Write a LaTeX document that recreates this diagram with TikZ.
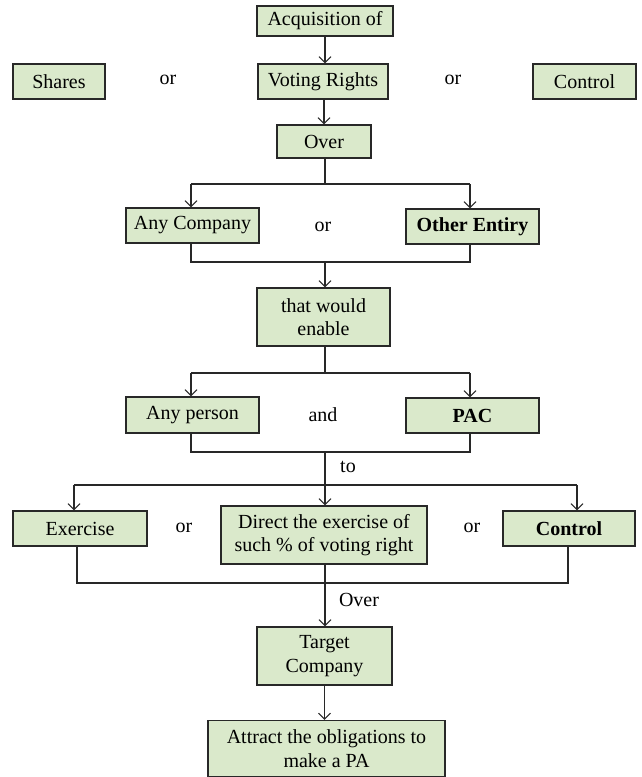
\documentclass[tikz,border=0pt]{standalone}
\usepackage{fontspec}
\setmainfont{Liberation Serif}
\usetikzlibrary{arrows.meta}
\definecolor{boxfill}{RGB}{218,233,203}
\definecolor{edge}{RGB}{40,40,40}
\tikzset{
  box/.style={draw=edge, line width=1.1pt, fill=boxfill, inner sep=0pt, align=center,
    font=\rmfamily\fontsize{20}{23.5}\selectfont, text=black},
  lbl/.style={inner sep=0pt, font=\rmfamily\fontsize{20}{23.5}\selectfont, text=black},
  conn/.style={draw=edge, line width=1.1pt},
  arr/.style={conn, -{Straight Barb[length=6pt,width=12pt,line width=1.1pt]}}
}
\begin{document}
\begin{tikzpicture}[x=1pt,y=-1pt]
\useasboundingbox (0,0) rectangle (641,777);
% row 1
\node[box, minimum width=136pt, minimum height=30pt] (acq) at (325,21) {Acquisition of};
\node[box, minimum width=92pt, minimum height=35pt] (shares) at (59,81.5) {Shares};
\node[lbl] (or1) at (168,80) {or};
\node[box, minimum width=130pt, minimum height=35pt] (voting) at (323,81.5) {Voting Rights};
\node[lbl] (or2) at (453,80) {or};
\node[box, minimum width=103pt, minimum height=35pt] (ctrlA) at (584.5,81.5) {Control};
\node[box, minimum width=94pt, minimum height=33pt] (over) at (324,141.5) {Over};
% row companies
\node[box, minimum width=133pt, minimum height=35pt] (anyco) at (192.5,225.5) {Any Company};
\node[lbl] (or3) at (323,227) {or};
\node[box, minimum width=133pt, minimum height=35pt] (other) at (472.5,226.5) {\bfseries Other Entiry};
\node[box, minimum width=133pt, minimum height=58pt] (enable) at (323.5,317) {that would\\enable};
% row persons
\node[box, minimum width=133pt, minimum height=36pt] (anyp) at (192.5,415) {Any person};
\node[lbl] (and) at (323,415) {and};
\node[box, minimum width=133pt, minimum height=35pt] (pac) at (472.5,415.5) {\bfseries PAC};
\node[lbl] (to) at (348,467) {to};
% row exercise
\node[box, minimum width=134pt, minimum height=35pt] (exer) at (80,528.5) {Exercise};
\node[lbl] (or4) at (184,528) {or};
\node[box, minimum width=206pt, minimum height=58pt] (direct) at (324,535) {Direct the exercise of\\such \% of voting right};
\node[lbl] (or5) at (472,528) {or};
\node[box, minimum width=132pt, minimum height=35pt] (ctrlB) at (569,528.5) {\bfseries Control};
\node[lbl] (over2) at (359,600) {Over};
\node[box, minimum width=135pt, minimum height=58pt] (target) at (324.5,656) {Target\\Company};
\node[box, minimum width=237pt, minimum height=56pt] (attract) at (326.5,748.5) {Attract the obligations to\\make a PA};
% coordinates
\coordinate (b1) at (325,184);
\coordinate (b1l) at (191,184);
\coordinate (b1r) at (470,184);
\coordinate (m1) at (325,262);
\coordinate (m1l) at (191,262);
\coordinate (m1r) at (470,262);
\coordinate (b2) at (325,373);
\coordinate (b2l) at (191,373);
\coordinate (b2r) at (470,373);
\coordinate (m2) at (325,452);
\coordinate (m2l) at (191,452);
\coordinate (m2r) at (470,452);
\coordinate (b3) at (325,485);
\coordinate (b3l) at (74,485);
\coordinate (b3r) at (577,485);
\coordinate (m3) at (325,583);
\coordinate (m3l) at (77,583);
\coordinate (m3r) at (568,583);
% connectors
\draw[arr] (acq.south) -- (acq.south |- voting.north);
\draw[arr] (voting.south -| over.north) -- (over.north);
\draw[conn] (b1 |- over.south) -- (b1);
\draw[conn] (b1l) -- (b1r);
\draw[arr] (b1l) -- (b1l |- anyco.north);
\draw[arr] (b1r) -- (b1r |- other.north);
\draw[conn] (anyco.south -| m1l) -- (m1l) -- (m1r) -- (other.south -| m1r);
\draw[arr] (m1) -- (m1 |- enable.north);
\draw[conn] (enable.south -| b2) -- (b2);
\draw[conn] (b2l) -- (b2r);
\draw[arr] (b2l) -- (b2l |- anyp.north);
\draw[arr] (b2r) -- (b2r |- pac.north);
\draw[conn] (anyp.south -| m2l) -- (m2l) -- (m2r) -- (pac.south -| m2r);
\draw[conn] (m2) -- (b3);
\draw[conn] (b3l) -- (b3r);
\draw[arr] (b3l) -- (b3l |- exer.north);
\draw[arr] (b3) -- (b3 |- direct.north);
\draw[arr] (b3r) -- (b3r |- ctrlB.north);
\draw[conn] (exer.south -| m3l) -- (m3l) -- (m3r) -- (ctrlB.south -| m3r);
\draw[conn] (direct.south -| m3) -- (m3);
\draw[arr] (m3) -- (m3 |- target.north);
\draw[arr] (target.south) -- (target.south |- attract.north);
\end{tikzpicture}
\end{document}
